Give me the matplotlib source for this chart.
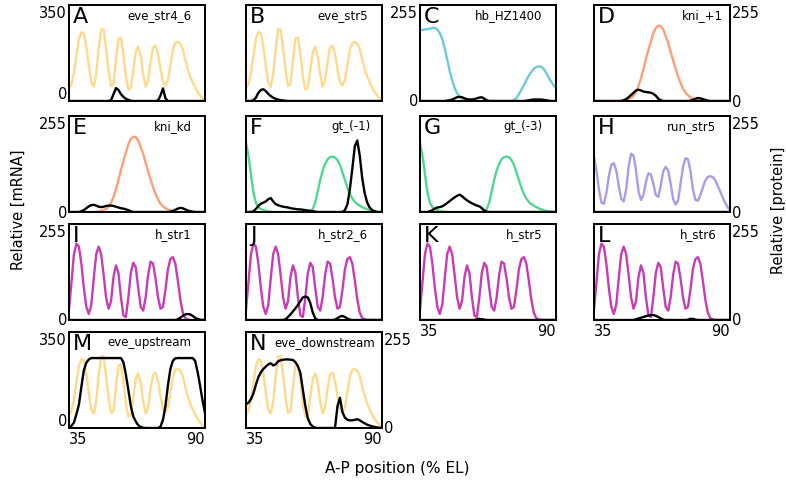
import matplotlib
matplotlib.use("Agg")
import matplotlib.pyplot as plt

# A-P position (% EL), one sample per percent
AP = list(range(35, 91))

# protein profiles (0-255)
eve_protein = [34, 45, 75, 120, 165, 183, 180, 145, 95, 50,
               38, 70, 140, 190, 190, 140, 80, 40, 45, 110,
               165, 168, 125, 65, 30, 35, 80, 130, 145, 120,
               70, 38, 55, 105, 142, 147, 125, 85, 50, 41,
               55, 95, 135, 155, 157, 152, 138, 110, 85, 65,
               50, 36, 24, 15, 8, 3]
hb_protein = [188, 189, 190, 191, 192, 194, 194, 190, 180, 165,
              140, 110, 80, 55, 35, 20, 11, 6, 3, 2,
              1, 0, 0, 0, 0, 0, 0, 0, 0, 0,
              0, 0, 0, 0, 0, 0, 0, 0, 2, 8,
              18, 30, 42, 55, 67, 77, 85, 90, 92, 91,
              85, 75, 63, 52, 42, 34]
kni_protein = [0, 0, 0, 0, 0, 0, 0, 0, 0, 0,
               0, 1, 2, 3, 5, 8, 14, 24, 40, 60,
               85, 112, 135, 158, 180, 194, 200, 199, 190, 172,
               155, 130, 108, 86, 66, 48, 33, 22, 15, 10,
               6, 4, 2, 1, 0, 0, 0, 0, 0, 0,
               0, 0, 0, 0, 0, 0]
gt_protein = [184, 150, 100, 52, 25, 13, 8, 5, 3, 2,
              1, 0, 0, 0, 0, 0, 0, 0, 0, 0,
              0, 0, 0, 0, 0, 0, 2, 8, 25, 55,
              85, 110, 128, 140, 146, 147, 145, 138, 125, 105,
              85, 65, 48, 36, 27, 21, 17, 13, 10, 7,
              5, 3, 2, 1, 0, 0]
run_protein = [148, 110, 60, 25, 22, 50, 95, 125, 130, 110,
               70, 35, 28, 60, 120, 155, 150, 110, 55, 32,
               45, 80, 103, 100, 75, 45, 40, 70, 108, 120,
               110, 75, 35, 20, 30, 75, 120, 143, 140, 110,
               60, 32, 30, 45, 65, 83, 93, 95, 93, 85,
               70, 55, 40, 25, 13, 5]
h_protein = [27, 100, 175, 203, 195, 150, 85, 35, 16, 40,
             110, 175, 195, 175, 120, 60, 30, 50, 115, 145,
             125, 60, 12, 8, 60, 125, 152, 140, 85, 35,
             25, 60, 120, 155, 150, 110, 60, 30, 35, 80,
             135, 162, 167, 150, 105, 55, 20, 5, 2, 0,
             0, 0, 0, 0, 0, 0]

# reporter mRNA profiles
eve_str4_6_mrna = [0, 0, 0, 0, 0, 0, 0, 0, 0, 0,
                   0, 0, 0, 0, 0, 0, 0, 3, 25, 47,
                   40, 25, 15, 8, 4, 1, 0, 0, 0, 0,
                   0, 0, 0, 0, 0, 0, 2, 20, 46, 10,
                   0, 0, 0, 0, 0, 0, 0, 0, 0, 0,
                   0, 0, 0, 0, 0, 0]
eve_str5_mrna = [0, 0, 0, 3, 12, 30, 40, 43, 36, 26,
                 18, 12, 8, 5, 3, 2, 1, 0, 0, 0,
                 0, 0, 0, 0, 0, 0, 0, 0, 0, 0,
                 0, 0, 0, 0, 0, 0, 0, 0, 0, 0,
                 0, 0, 0, 0, 0, 0, 0, 0, 0, 0,
                 0, 0, 0, 0, 0, 0]
hb_HZ1400_mrna = [0, 0, 0, 0, 0, 0, 0, 0, 0, 0,
                  0, 1, 2, 4, 7, 10, 11, 10, 7, 5,
                  4, 4, 5, 7, 9, 10, 6, 2, 0, 0,
                  0, 0, 0, 0, 0, 0, 0, 0, 0, 0,
                  0, 0, 0, 1, 2, 3, 4, 4, 4, 4,
                  3, 2, 1, 0, 0, 0]
kni_p1_mrna = [0, 0, 0, 0, 0, 0, 0, 0, 0, 0,
               0, 0, 2, 5, 10, 16, 22, 28, 30, 28,
               25, 24, 23, 22, 19, 14, 6, 2, 0, 0,
               0, 0, 0, 0, 0, 0, 0, 0, 0, 1,
               3, 6, 8, 7, 5, 3, 1, 0, 0, 0,
               0, 0, 0, 0, 0, 0]
kni_kd_mrna = [0, 0, 0, 0, 0, 2, 5, 10, 15, 18,
               19, 17, 14, 13, 14, 16, 17, 17, 16, 14,
               12, 10, 9, 7, 5, 2, 0, 0, 0, 0,
               0, 0, 0, 0, 0, 0, 0, 0, 0, 0,
               0, 1, 3, 6, 9, 11, 10, 7, 4, 2,
               1, 0, 0, 0, 0, 0]
gt_m1_mrna = [0, 0, 0, 2, 8, 16, 22, 25, 28, 34,
              37, 28, 21, 18, 16, 14, 13, 12, 10, 9,
              8, 7, 7, 6, 5, 4, 3, 2, 1, 0,
              0, 0, 0, 0, 0, 0, 0, 0, 0, 0,
              5, 20, 60, 115, 175, 190, 150, 90, 50, 25,
              12, 5, 2, 0, 0, 0]
gt_m3_mrna = [0, 0, 0, 0, 2, 5, 9, 12, 13, 15,
              19, 24, 29, 34, 39, 43, 46, 42, 36, 31,
              27, 23, 20, 17, 15, 10, 4, 1, 0, 0,
              0, 0, 0, 0, 0, 0, 0, 0, 0, 0,
              0, 0, 0, 0, 0, 0, 0, 0, 0, 0,
              0, 0, 0, 0, 0, 0]
run_str5_mrna = [0] * 56
h_str1_mrna = [0, 0, 0, 0, 0, 0, 0, 0, 0, 0,
               0, 0, 0, 0, 0, 0, 0, 0, 0, 0,
               0, 0, 0, 0, 0, 0, 0, 0, 0, 0,
               0, 0, 0, 0, 0, 0, 0, 0, 0, 0,
               0, 0, 0, 0, 2, 6, 11, 15, 16, 15,
               11, 6, 3, 1, 0, 0]
h_str2_6_mrna = [0, 0, 0, 0, 0, 0, 0, 0, 0, 0,
                 0, 0, 0, 0, 0, 0, 2, 8, 15, 23,
                 31, 40, 50, 60, 62, 60, 45, 20, 4, 0,
                 0, 0, 0, 0, 0, 0, 1, 5, 9, 11,
                 8, 4, 1, 0, 0, 0, 0, 0, 0, 0,
                 0, 0, 0, 0, 0, 0]
h_str5_mrna = [0, 0, 0, 0, 0, 0, 0, 0, 0, 0,
               0, 0, 0, 0, 0, 0, 0, 0, 0, 0,
               0, 0, 0, 2, 3, 2, 1, 0, 0, 0,
               0, 0, 0, 0, 0, 0, 0, 0, 0, 0,
               0, 0, 0, 0, 0, 0, 0, 0, 0, 0,
               0, 0, 0, 0, 0, 0]
h_str6_mrna = [0, 0, 0, 0, 0, 0, 0, 0, 0, 0,
               0, 0, 0, 0, 0, 0, 0, 2, 4, 6,
               8, 10, 12, 13, 13, 11, 8, 4, 1, 0,
               0, 0, 0, 0, 0, 0, 0, 0, 1, 3,
               3, 1, 0, 0, 0, 0, 0, 0, 0, 0,
               0, 0, 0, 0, 0, 0]
eve_upstream_mrna = [3, 8, 20, 50, 85, 150, 210, 238, 250, 255,
                     255, 255, 255, 255, 255, 255, 255, 255, 255, 255,
                     255, 255, 240, 195, 139, 80, 42, 24, 10, 4,
                     1, 0, 0, 0, 0, 0, 0, 5, 30, 80,
                     155, 215, 245, 254, 255, 255, 255, 255, 255, 255,
                     255, 245, 205, 155, 100, 55]
eve_downstream_mrna = [87, 92, 105, 126, 158, 185, 203, 215, 224, 232,
                       236, 228, 232, 243, 247, 249, 250, 250, 249, 248,
                       240, 225, 200, 139, 80, 35, 15, 5, 1, 0,
                       0, 0, 0, 0, 0, 0, 0, 80, 110, 58,
                       38, 30, 28, 28, 30, 32, 28, 22, 17, 12,
                       9, 6, 4, 2, 1, 0]

PROTEIN = {
    "eve": eve_protein,
    "hb": hb_protein,
    "kni": kni_protein,
    "gt": gt_protein,
    "run": run_protein,
    "h": h_protein,
}
PROTEIN_COLORS = {
    "eve": "#FFD98C",
    "hb": "#6CCADC",
    "kni": "#FF9E78",
    "gt": "#4FD88F",
    "run": "#A99CE8",
    "h": "#C93BB5",
}

panels = [
    ("A", "eve_str4_6", "eve", eve_str4_6_mrna),
    ("B", "eve_str5", "eve", eve_str5_mrna),
    ("C", "hb_HZ1400", "hb", hb_HZ1400_mrna),
    ("D", "kni_+1", "kni", kni_p1_mrna),
    ("E", "kni_kd", "kni", kni_kd_mrna),
    ("F", "gt_(-1)", "gt", gt_m1_mrna),
    ("G", "gt_(-3)", "gt", gt_m3_mrna),
    ("H", "run_str5", "run", run_str5_mrna),
    ("I", "h_str1", "h", h_str1_mrna),
    ("J", "h_str2_6", "h", h_str2_6_mrna),
    ("K", "h_str5", "h", h_str5_mrna),
    ("L", "h_str6", "h", h_str6_mrna),
    ("M", "eve_upstream", "eve", eve_upstream_mrna),
    ("N", "eve_downstream", "eve", eve_downstream_mrna),
]

# which panels show which tick labels
LEFT_TICKS = {"A", "C", "E", "I", "M"}
RIGHT_TICKS = {"D", "H", "L", "N"}
X_TICKS = {"K", "L", "M", "N"}
NAME_X = {"D": 0.95, "F": 0.92, "N": 0.95}

# layout in pixels
FIG_W, FIG_H = 786, 485
COL_PX = [69, 246, 420, 594]
ROW_PX = [6, 117, 225, 333]
W_PX, H_PX = 136, 96

fig = plt.figure(figsize=(FIG_W / 100, FIG_H / 100), dpi=100)

for i, (letter, name, gene, mrna) in enumerate(panels):
    r, c = divmod(i, 4)
    rect = [COL_PX[c] / FIG_W, 1 - (ROW_PX[r] + H_PX) / FIG_H,
            W_PX / FIG_W, H_PX / FIG_H]
    ax = fig.add_axes(rect)
    ax2 = ax.twinx()

    ax2.plot(AP, PROTEIN[gene], color=PROTEIN_COLORS[gene], lw=1.7)
    ax.plot(AP, mrna, color="black", lw=1.7)
    ax.set_zorder(ax2.get_zorder() + 1)
    ax.patch.set_visible(False)

    mrna_top = 350 if gene == "eve" else 255
    ax.set_ylim(0, mrna_top)
    ax2.set_ylim(0, 255)
    ax.set_xlim(35, 90)

    for a in (ax, ax2):
        a.tick_params(length=0, labelsize=10.5, pad=1.5)
        for sp in a.spines.values():
            sp.set_linewidth(1.3)
            sp.set_color("black")

    ax.set_yticks([])
    ax2.set_yticks([])
    ax.set_xticks([])

    if letter in LEFT_TICKS:
        ax.set_yticks([0, mrna_top], ["0", str(mrna_top)])
        lbls = ax.get_yticklabels()
        lbls[0].set_va("bottom" if mrna_top == 350 else "center")
        lbls[1].set_va("top")
    if letter in RIGHT_TICKS:
        ax2.set_yticks([0, 255], ["0", "255"])
        lbls = ax2.get_yticklabels()
        lbls[0].set_va("center")
        lbls[1].set_va("top")
    if letter in X_TICKS:
        ax.set_xticks([35, 90], ["35", "90"])
        ax.tick_params(axis="x", pad=2.5)
        lbls = ax.get_xticklabels()
        lbls[0].set_ha("left")
        lbls[1].set_ha("right")

    ax.text(0.03, 0.99, letter, transform=ax.transAxes, fontsize=16,
            va="top", ha="left", zorder=5)
    ax.text(NAME_X.get(letter, 0.9), 0.965, name, transform=ax.transAxes,
            fontsize=8.5, va="top", ha="right", zorder=5)

fig.text(0.023, 0.567, "Relative [mRNA]", rotation=90, va="center",
         ha="center", fontsize=10.5)
fig.text(0.991, 0.567, "Relative [protein]", rotation=90, va="center",
         ha="center", fontsize=10.5)
fig.text(0.506, 0.035, "A-P position (% EL)", va="center", ha="center",
         fontsize=11)

fig.savefig("out.png", dpi=100)
